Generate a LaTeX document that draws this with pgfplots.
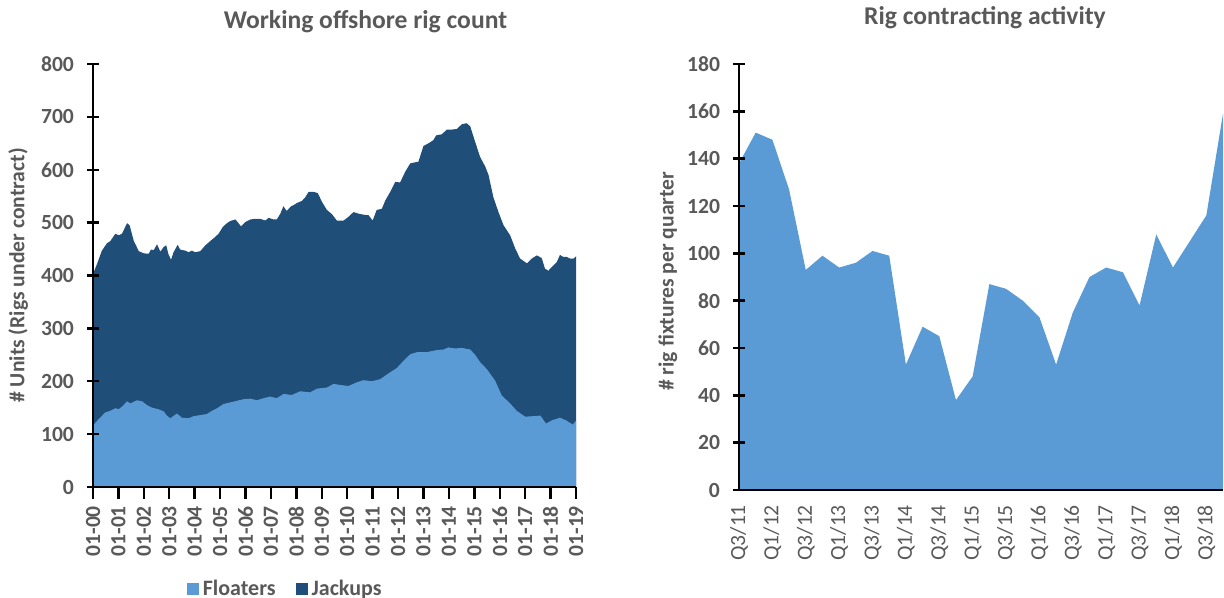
\documentclass[border=0pt]{standalone}
\usepackage{pgfplots}
\pgfplotsset{compat=1.18}
\usepackage{fontspec}
\setmainfont{Carlito}
\definecolor{floatc}{HTML}{5B9BD5}
\definecolor{jackc}{HTML}{1F4E79}
\definecolor{txt}{HTML}{595959}

\begin{document}
\begin{tikzpicture}
\path[use as bounding box] (0pt,0pt) rectangle (612pt,299pt);

\begin{axis}[
  at={(46.5pt,55.5pt)}, anchor=south west,
  scale only axis, width=241.5pt, height=211.5pt,
  xmin=0, xmax=19, ymin=0, ymax=800,
  axis x line*=bottom, axis y line*=left,
  axis line style={line width=1.2pt, black},
  tick style={black, line width=1.2pt},
  xtick={0,...,19},
  xticklabels={01-00,01-01,01-02,01-03,01-04,01-05,01-06,01-07,01-08,01-09,01-10,01-11,01-12,01-13,01-14,01-15,01-16,01-17,01-18,01-19},
  ytick={0,100,...,800},
  xtick align=outside, ytick align=center,
  major tick length=6pt,
  x tick label style={rotate=90, anchor=east},
  y tick label style={xshift=-3pt},
  tick label style={font=\fontsize{10.8}{12}\selectfont\bfseries, text=txt},
  /pgf/number format/assume math mode=true,
  axis on top,
  ylabel={\# Units (Rigs under contract)},
  ylabel style={at={(axis description cs:-0.155,0.5)}, anchor=center, font=\fontsize{10.8}{12}\selectfont\bfseries, text=txt},
  legend style={at={(0.40,-0.241)}, anchor=center, draw=none, fill=none, legend columns=2,
    font=\fontsize{11}{13}\selectfont\bfseries, text=txt,
    /tikz/every even column/.append style={column sep=8pt}},
  legend image code/.code={\fill[#1] (0pt,-3pt) rectangle (6pt,3pt);},
]
\addlegendimage{fill=floatc, draw=none}
\addlegendentry{Floaters}
\addlegendimage{fill=jackc, draw=none}
\addlegendentry{Jackups}

% Total (jackups stacked on floaters)
\addplot[fill=jackc, draw=none, forget plot] coordinates {
(0.00,403)(0.16,422)(0.35,447)(0.55,461)(0.68,465)(0.88,479)(1.01,476)(1.14,479)
(1.34,499)(1.44,495)(1.60,466)(1.80,446)(1.99,442)(2.19,441)(2.28,449)(2.39,448)
(2.52,459)(2.65,445)(2.78,454)(2.88,457)(2.97,440)(3.07,430)(3.17,444)(3.33,458)
(3.43,449)(3.63,447)(3.76,444)(3.89,447)(4.02,444)(4.22,446)(4.42,457)(4.61,465)
(4.81,473)(4.94,479)(5.11,492)(5.27,499)(5.40,503)(5.60,506)(5.69,501)(5.82,493)
(5.99,501)(6.19,506)(6.38,507)(6.58,507)(6.78,504)(6.91,509)(7.10,506)(7.23,506)
(7.37,517)(7.49,531)(7.62,522)(7.79,531)(7.89,533)(8.02,537)(8.22,541)(8.35,548)
(8.48,558)(8.68,558)(8.84,556)(9.01,539)(9.20,524)(9.40,516)(9.59,504)(9.86,504)
(10.05,511)(10.25,520)(10.44,517)(10.64,515)(10.84,514)(11.00,504)(11.16,524)(11.36,526)
(11.50,542)(11.69,558)(11.89,577)(12.08,576)(12.28,596)(12.48,612)(12.67,614)(12.80,615)
(13.00,645)(13.20,650)(13.39,656)(13.50,665)(13.72,667)(13.92,676)(14.11,676)(14.31,677)
(14.51,686)(14.70,688)(14.84,682)(15.03,653)(15.23,624)(15.43,606)(15.56,590)(15.75,548)
(15.95,520)(16.15,495)(16.41,476)(16.61,451)(16.80,432)(17.07,423)(17.26,432)(17.46,438)
(17.65,433)(17.78,413)(17.91,409)(18.11,419)(18.24,425)(18.37,439)(18.50,435)(18.64,435)
(18.77,432)(18.90,432)(19.00,436)
} \closedcycle;

% Floaters
\addplot[fill=floatc, draw=none, forget plot] coordinates {
(0.00,116)(0.16,125)(0.48,141)(0.68,144)(0.88,149)(1.01,147)(1.14,152)(1.34,162)
(1.47,158)(1.73,164)(1.93,162)(2.12,155)(2.32,150)(2.58,147)(2.78,143)(2.91,135)
(3.04,130)(3.30,139)(3.50,131)(3.76,130)(3.96,134)(4.22,136)(4.48,138)(4.68,144)
(4.88,149)(5.14,157)(5.40,160)(5.66,163)(5.92,166)(6.19,167)(6.45,164)(6.71,168)
(6.97,171)(7.23,168)(7.50,176)(7.82,174)(8.15,181)(8.54,179)(8.81,186)(9.20,188)
(9.46,195)(9.72,193)(10.05,191)(10.38,198)(10.64,202)(10.97,200)(11.30,204)(11.63,215)
(11.95,225)(12.22,239)(12.48,251)(12.74,255)(13.13,255)(13.53,259)(13.79,260)(13.98,264)
(14.24,262)(14.51,263)(14.84,260)(15.03,250)(15.23,236)(15.49,223)(15.82,201)(16.08,173)
(16.41,158)(16.67,144)(17.00,133)(17.33,134)(17.60,135)(17.82,120)(18.05,126)(18.37,131)
(18.61,126)(18.87,118)(19.00,125)
} \closedcycle;
\end{axis}

\begin{axis}[
  at={(369.5pt,54pt)}, anchor=south west,
  scale only axis, width=242pt, height=213pt,
  xmin=0, xmax=29, ymin=0, ymax=180,
  axis x line*=bottom, axis y line*=left,
  axis line style={line width=1.2pt, black},
  tick style={black, line width=1.2pt},
  xtick={0,2,...,28},
  xticklabels={Q3/11,Q1/12,Q3/12,Q1/13,Q3/13,Q1/14,Q3/14,Q1/15,Q3/15,Q1/16,Q3/16,Q1/17,Q3/17,Q1/18,Q3/18},
  ytick={0,20,...,180},
  ytick align=center,
  major tick length=6pt,
  x tick style={draw=none},
  x tick label style={yshift=-4pt, rotate=90, anchor=east, font=\fontsize{10.8}{12}\selectfont, text=txt},
  y tick label style={xshift=-3pt, font=\fontsize{10.8}{12}\selectfont\bfseries, text=txt},
  /pgf/number format/assume math mode=true,
  axis on top,
  ylabel={\# rig fixtures per quarter},
  ylabel style={at={(axis description cs:-0.147,0.49)}, anchor=center, font=\fontsize{10.8}{12}\selectfont\bfseries, text=txt},
]
\addplot[fill=floatc, draw=none] coordinates {
(0,138)(1,151)(2,148)(3,127)(4,93)(5,99)(6,94)(7,96)(8,101)(9,99)
(10,53)(11,69)(12,65)(13,38)(14,48)(15,87)(16,85)(17,80)(18,73)(19,53)
(20,75)(21,90)(22,94)(23,92)(24,78)(25,108)(26,94)(27,105)(28,116)(29,159)
} \closedcycle;
\end{axis}

\node[font=\fontsize{12.8}{15}\selectfont\bfseries, text=txt] at (182.75pt,288pt) {Working offshore rig count};
\node[font=\fontsize{12.8}{15}\selectfont\bfseries, text=txt] at (492.5pt,290pt) {Rig contracting activity};
\end{tikzpicture}
\end{document}
